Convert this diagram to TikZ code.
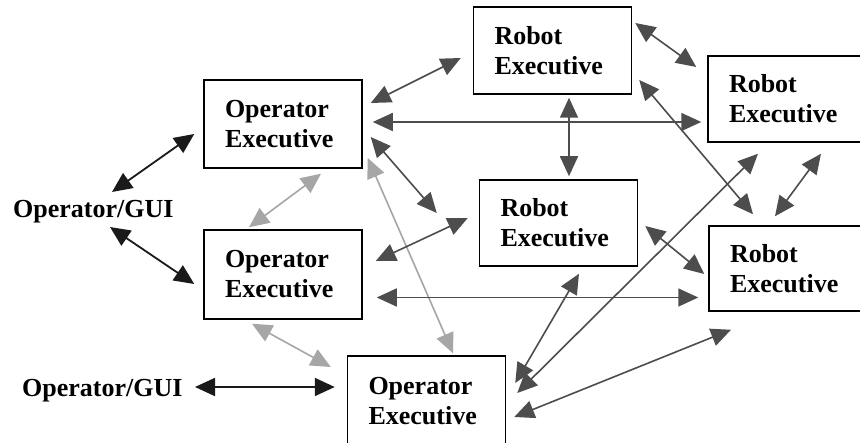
\documentclass[tikz,border=0pt]{standalone}
\usepackage{fontspec}
\setmainfont{Liberation Serif}
\usetikzlibrary{arrows.meta}
\definecolor{dk}{HTML}{4D4D4D}
\definecolor{lt}{HTML}{A6A6A6}
\definecolor{bk}{HTML}{1A1A1A}
\tikzset{
  box/.style={draw=black, line width=1.5pt, text width=116pt, inner xsep=21pt, inner ysep=0pt,
    align=left, font=\fontsize{26}{30}\selectfont\bfseries},
  widebox/.style={box, text width=138pt},
  lbl/.style={inner sep=0pt, anchor=base west, font=\fontsize{26}{30}\selectfont\bfseries},
  tip/.style={{Triangle[length=20pt,width=18pt]}-{Triangle[length=20pt,width=18pt]}},
  dkarr/.style={tip, draw=dk, fill=dk, line width=1.6pt},
  ltarr/.style={tip, draw=lt, fill=lt, line width=1.6pt},
  bkarr/.style={tip, draw=bk, fill=bk, line width=1.8pt},
}
\begin{document}
\begin{tikzpicture}[x=1pt,y=-1pt]
\useasboundingbox (0,0) rectangle (860,443);
\fill[white] (0,0) rectangle (860,443);
% boxes
\node[box, minimum height=88pt] (op1) at (283,124) {Operator\\Executive};
\node[box, minimum height=89pt] (op2) at (283,274.5) {Operator\\Executive};
\node[box, minimum height=90pt] (op3) at (426.5,401) {Operator\\Executive};
\node[box, minimum height=87pt] (r1) at (552.5,50.5) {Robot\\Executive};
\node[widebox, minimum height=86pt] (r2) at (798,99) {Robot\\Executive};
\node[box, minimum height=86pt] (r3) at (558.5,223) {Robot\\Executive};
\node[widebox, minimum height=85pt] (r4) at (799,268.5) {Robot\\Executive};
% labels
\node[lbl] (gui1) at (13,218) {Operator/GUI};
\node[lbl] (gui2) at (22,397) {Operator/GUI};
% black connectors
\draw[bkarr] ([shift={(99,-26)}]gui1.base west) -- ([shift={(-9,10)}]op1.west);
\draw[bkarr] ([shift={(97,9)}]gui1.base west) -- ([shift={(-9,9.5)}]op2.west);
\draw[bkarr] ([shift={(173,-10)}]gui2.base west) -- ([shift={(-12,-14)}]op3.west);
% light connectors
\draw[ltarr] ([shift={(38,5)}]op1.south) -- ([shift={(-34,-2)}]op2.north);
\draw[ltarr] ([shift={(-31,4)}]op2.south) -- ([shift={(-16,-34)}]op3.west);
\draw[ltarr] ([shift={(5,34)}]op1.east) -- ([shift={(26.5,-2)}]op3.north);
% dark connectors
\draw[dkarr] ([shift={(8,-21)}]op1.east) -- ([shift={(-12,7.5)}]r1.west);
\draw[dkarr] ([shift={(10,-2)}]op1.east) -- ([shift={(-6,23)}]r2.west);
\draw[dkarr] ([shift={(8,13)}]op1.east) -- ([shift={(-42,-10)}]r3.west);
\draw[dkarr] ([shift={(13,-13.5)}]op2.east) -- ([shift={(-11,-5)}]r3.west);
\draw[dkarr] ([shift={(14,23)}]op2.east) -- ([shift={(-10,29)}]r4.west);
\draw[dkarr] ([shift={(16.5,3)}]r1.south) -- ([shift={(10.5,-3)}]r3.north);
\draw[dkarr] ([shift={(3,-27.5)}]r1.east) -- ([shift={(-11,-32)}]r2.west);
\draw[dkarr] ([shift={(7,29.5)}]r1.east) -- ([shift={(-46,-11)}]r4.north);
\draw[dkarr] ([shift={(23,11)}]r2.south) -- ([shift={(-24,-9)}]r4.north);
\draw[dkarr] ([shift={(7,3)}]r3.east) -- ([shift={(-4,5.5)}]r4.west);
\draw[dkarr] ([shift={(9,-18)}]op3.east) -- ([shift={(20.5,7)}]r3.south);
\draw[dkarr] ([shift={(11,-8)}]op3.east) -- ([shift={(-40,11)}]r2.south);
\draw[dkarr] ([shift={(8,16)}]op3.east) -- ([shift={(-68,18)}]r4.south);
\end{tikzpicture}
\end{document}
